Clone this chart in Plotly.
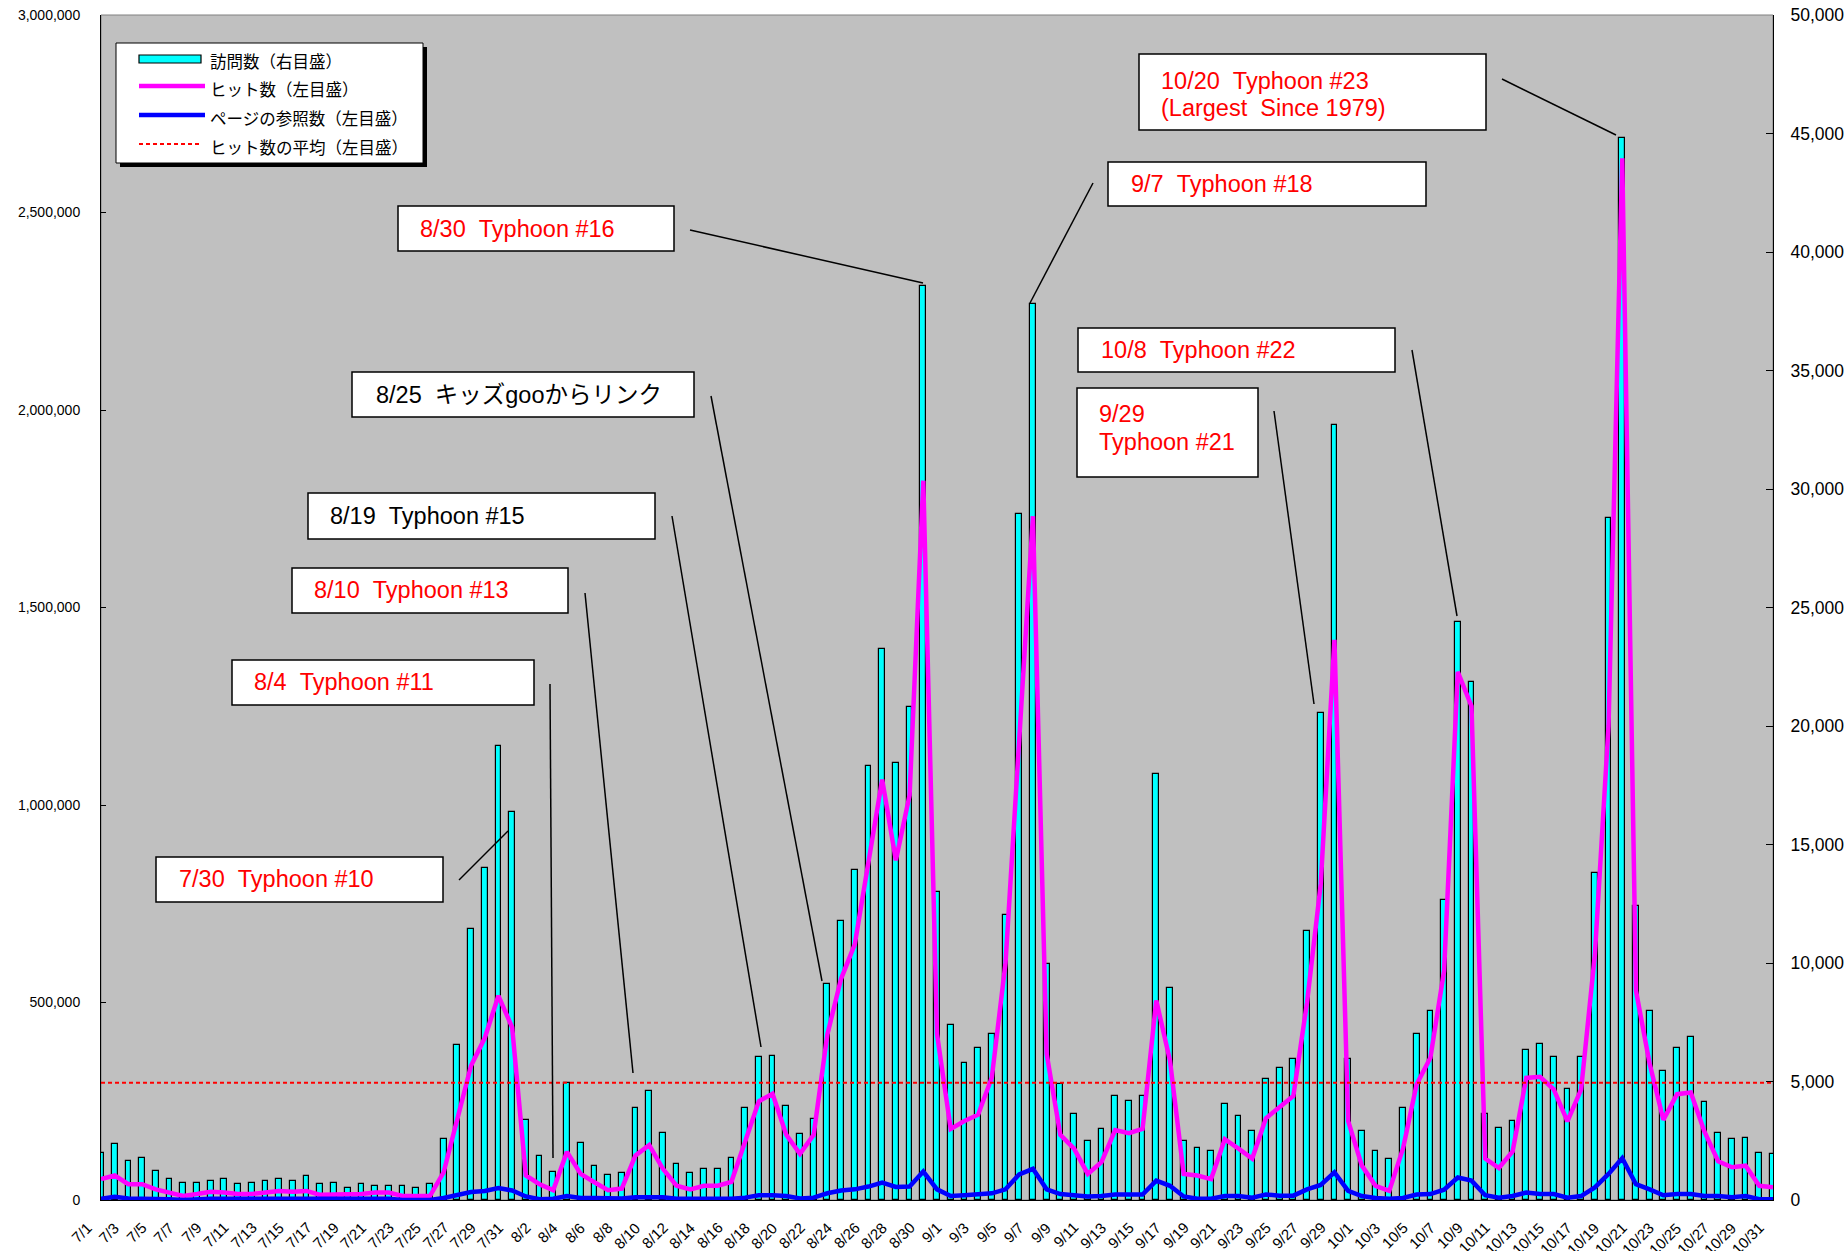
import plotly.graph_objects as go
from datetime import date, timedelta

# ---------------- data ----------------
START = date(2004, 7, 1)
N_DAYS = 123
DATES = [START + timedelta(days=k) for k in range(N_DAYS)]
LABELS = [f"{d.month}/{d.day}" for d in DATES]

# 訪問数 (right axis)
VISITS = [2000, 2350, 1650, 1790, 1230, 870, 730, 730, 800, 870,
          660, 730, 800, 870, 800, 1010, 660, 730, 510, 660,
          590, 590, 590, 510, 660, 2560, 6550, 11440, 14020, 19140,
          16370, 3380, 1850, 1170, 4950, 2415, 1430, 1070, 1160, 3900,
          4600, 2840, 1500, 1160, 1290, 1290, 1790, 3900, 6020, 6090,
          3970, 2770, 3415, 9100, 11790, 13930, 18310, 23230, 18460, 20800,
          38560, 12985, 7400, 5780, 6420, 6990, 12040, 28950, 37810, 9950,
          4900, 3615, 2486, 2987, 4387, 4173, 4387, 17960, 8955, 2486,
          2201, 2058, 4044, 3558, 2915, 5102, 5587, 5945, 11343, 20550,
          32690, 5945, 2915, 2058, 1715, 3901, 7002, 7988, 12640, 24380,
          21840, 3629, 3058, 3344, 6316, 6573, 6016, 4687, 6016, 13780,
          28760, 44800, 12390, 7988, 5444, 6430, 6859, 4115, 2844, 2558,
          2629, 2001, 1929]

# ヒット数 (left axis)
HITS = [53000, 62000, 40000, 40000, 27000, 19000, 10000, 15000, 21000, 19000,
        15000, 15000, 19000, 23000, 21000, 23000, 13000, 13000, 13000, 15000,
        19000, 19000, 10000, 10000, 10000, 70000, 210000, 340000, 410000, 517000,
        437000, 62000, 40000, 25000, 122000, 66000, 45000, 25000, 29000, 113000,
        139000, 79000, 36000, 27000, 36000, 36000, 46000, 147000, 250000, 269000,
        165000, 117000, 165000, 419000, 560000, 647000, 851000, 1064000, 860000, 1025000,
        1821000, 420000, 180000, 200000, 216000, 310000, 600000, 1150000, 1731000, 370000,
        165000, 130000, 66000, 96000, 177000, 169000, 180000, 505000, 353000, 66000,
        62000, 53000, 154000, 130000, 105000, 207000, 235000, 263000, 500000, 800000,
        1418000, 200000, 87000, 36000, 23000, 130000, 293000, 360000, 580000, 1337000,
        1250000, 105000, 81000, 123000, 309000, 312000, 280000, 199000, 280000, 620000,
        1200000, 2637000, 530000, 345000, 203000, 268000, 272000, 173000, 98000, 83000,
        87000, 36000, 32000]

# ページの参照数 (left axis)
PAGES = [3000, 8000, 4000, 4000, 3000, 2000, 0, 2000, 3000, 3000,
         3000, 3000, 3000, 3000, 3000, 3000, 3000, 3000, 3000, 3000,
         3000, 3000, 0, 0, 0, 5000, 12000, 20000, 23000, 30000,
         24000, 9000, 2000, 3000, 10000, 5000, 5000, 4000, 4000, 7000,
         7000, 7000, 3000, 3000, 3000, 3000, 3000, 6000, 12000, 12000,
         10000, 4000, 6000, 17000, 24000, 27000, 34000, 44000, 33000, 34000,
         72000, 27000, 10000, 12000, 15000, 17000, 27000, 65000, 79000, 27000,
         15000, 11000, 9000, 10000, 14000, 14000, 14000, 49000, 36000, 9000,
         3000, 3000, 10000, 10000, 6000, 14000, 11000, 11000, 27000, 38000,
         70000, 23000, 10000, 5000, 3000, 5000, 14000, 15000, 26000, 57000,
         49000, 12000, 6000, 10000, 19000, 15000, 15000, 6000, 10000, 32000,
         66000, 106000, 40000, 27000, 12000, 15000, 15000, 10000, 10000, 7000,
         10000, 2000, 2000]

# ヒット数の平均 (left axis)
HIT_AVG = 297000

LEGEND_NAMES = ["訪問数（右目盛）", "ヒット数（左目盛）", "ページの参照数（左目盛）", "ヒット数の平均（左目盛）"]

# callouts: (lines of text, colour)
CALLOUTS = [
    (["7/30\u00a0\u00a0Typhoon #10"], "#FF0000"),
    (["8/4\u00a0\u00a0Typhoon #11"], "#FF0000"),
    (["8/10\u00a0\u00a0Typhoon #13"], "#FF0000"),
    (["8/19\u00a0\u00a0Typhoon #15"], "#000000"),
    (["8/25\u00a0\u00a0キッズgooからリンク"], "#000000"),
    (["8/30\u00a0\u00a0Typhoon #16"], "#FF0000"),
    (["9/7\u00a0\u00a0Typhoon #18"], "#FF0000"),
    (["10/20\u00a0\u00a0Typhoon #23", "(Largest\u00a0\u00a0Since 1979)"], "#FF0000"),
    (["10/8\u00a0\u00a0Typhoon #22"], "#FF0000"),
    (["9/29", "Typhoon #21"], "#FF0000"),
]

# ---------------- layout geometry (pixels) ----------------
W, H = 1848, 1251
PL, PR, PT, PB = 101, 1773, 15, 1200

def px(x):
    return (x - PL) / (PR - PL)

def py(y):
    return (PB - y) / (PB - PT)

# callout boxes: (x0, y0, x1, y1), text left, first line y, line step, leader line
BOXES = [
    ((156, 857, 443, 902), 177, 879, 0, (459, 880, 508, 831)),
    ((232, 660, 534, 705), 252, 682, 0, (550, 684, 553, 1158)),
    ((292, 568, 568, 613), 312, 590, 0, (585, 593, 633, 1073)),
    ((308, 493, 655, 539), 328, 516, 0, (672, 516, 761, 1047)),
    ((352, 372, 694, 417), 374, 395, 0, (711, 396, 822, 981)),
    ((398, 206, 674, 251), 418, 229, 0, (690, 230, 923, 283)),
    ((1108, 162, 1426, 206), 1129, 184, 0, (1093, 183, 1030, 303)),
    ((1139, 54, 1486, 130), 1159, 81, 27, (1502, 79, 1616, 135)),
    ((1078, 328, 1395, 372), 1099, 350, 0, (1412, 350, 1457, 616)),
    ((1077, 388, 1258, 477), 1097, 414, 28, (1274, 411, 1314, 704)),
]

X = list(range(N_DAYS))

fig = go.Figure()
fig.add_trace(go.Bar(x=X, y=VISITS, name=LEGEND_NAMES[0], yaxis="y",
                     width=0.42, marker=dict(color="#00FFFF", line=dict(color="#000000", width=1.2))))
fig.add_trace(go.Scatter(x=X, y=HITS, name=LEGEND_NAMES[1], yaxis="y2", mode="lines",
                         line=dict(color="#FF00FF", width=4.5)))
fig.add_trace(go.Scatter(x=X, y=PAGES, name=LEGEND_NAMES[2], yaxis="y2", mode="lines",
                         line=dict(color="#0000FF", width=4.5)))
fig.add_trace(go.Scatter(x=[X[0], X[-1]], y=[HIT_AVG, HIT_AVG], name=LEGEND_NAMES[3], yaxis="y2",
                         mode="lines", line=dict(color="#FF0000", width=2, dash="4px,3px")))

shapes = []
annotations = []

# plot area border (grey)
shapes.append(dict(type="rect", xref="paper", yref="paper", x0=0, y0=0, x1=1, y1=1,
                   line=dict(color="#808080", width=1), layer="below"))

# legend box with shadow
shapes.append(dict(type="rect", xref="paper", yref="paper", x0=px(120), y0=py(167), x1=px(427), y1=py(47),
                   fillcolor="#000000", line=dict(width=0)))
shapes.append(dict(type="rect", xref="paper", yref="paper", x0=px(116), y0=py(163), x1=px(423), y1=py(43),
                   fillcolor="#FFFFFF", line=dict(color="#000000", width=1)))
shapes.append(dict(type="rect", xref="paper", yref="paper", x0=px(139), y0=py(63), x1=px(201), y1=py(55),
                   fillcolor="#00FFFF", line=dict(color="#000000", width=1.2)))
shapes.append(dict(type="line", xref="paper", yref="paper", x0=px(139), y0=py(86), x1=px(205), y1=py(86),
                   line=dict(color="#FF00FF", width=4.5)))
shapes.append(dict(type="line", xref="paper", yref="paper", x0=px(139), y0=py(115), x1=px(205), y1=py(115),
                   line=dict(color="#0000FF", width=4.5)))
shapes.append(dict(type="line", xref="paper", yref="paper", x0=px(139), y0=py(144), x1=px(200), y1=py(144),
                   line=dict(color="#FF0000", width=2, dash="4px,3px")))
for k, yy in enumerate([61, 89, 118, 147]):
    annotations.append(dict(xref="paper", yref="paper", x=px(208), y=py(yy), xanchor="left", yanchor="middle",
                            text=LEGEND_NAMES[k], showarrow=False,
                            font=dict(family="Noto Sans CJK JP", size=16.5, color="#000000")))

# callouts
for (lines, colour), (box, tx, ty, step, lead) in zip(CALLOUTS, BOXES):
    x0, y0, x1, y1 = box
    shapes.append(dict(type="rect", xref="paper", yref="paper", x0=px(x0), y0=py(y1), x1=px(x1), y1=py(y0),
                       fillcolor="#FFFFFF", line=dict(color="#000000", width=1.5)))
    lx0, ly0, lx1, ly1 = lead
    shapes.append(dict(type="line", xref="paper", yref="paper", x0=px(lx0), y0=py(ly0), x1=px(lx1), y1=py(ly1),
                       line=dict(color="#000000", width=1.5)))
    for j, t in enumerate(lines):
        annotations.append(dict(xref="paper", yref="paper", x=px(tx), y=py(ty + j * step),
                                xanchor="left", yanchor="middle", text=t, showarrow=False,
                                font=dict(family="Liberation Sans, Arial, Noto Sans CJK JP", size=23.5,
                                          color=colour)))

# rotated category labels (every other day), anchored at the category positions
for i in X[::2]:
    annotations.append(dict(xref="x", yref="paper", x=i, y=0, xanchor="right", yanchor="top",
                            xshift=-6, yshift=-19, textangle=-45, text=LABELS[i], showarrow=False,
                            borderpad=0, borderwidth=0,
                            font=dict(family="Liberation Sans, Arial, sans-serif", size=15, color="#000000")))

fig.update_layout(
    width=W, height=H, autosize=False,
    margin=dict(l=PL, r=W - PR, t=PT, b=H - PB, pad=0),
    paper_bgcolor="#FFFFFF", plot_bgcolor="#C0C0C0",
    showlegend=False, bargap=0,
    font=dict(family="Liberation Sans, Arial, sans-serif", color="#000000"),
    xaxis=dict(range=[0, N_DAYS - 1], showticklabels=False, showgrid=False, zeroline=False,
               showline=True, linecolor="#000000", linewidth=1, ticks="", automargin=False),
    yaxis=dict(side="right", range=[0, 50000], tickmode="linear", tick0=0, dtick=5000,
               tickformat=",", tickfont=dict(size=17.5), showgrid=False, zeroline=False,
               showline=True, linecolor="#000000", linewidth=1, ticks="inside", ticklen=7,
               tickcolor="#000000", ticklabelstandoff=13, automargin=False),
    yaxis2=dict(side="left", overlaying="y", range=[0, 3000000], tickmode="linear", tick0=0,
                dtick=500000, tickformat=",", tickfont=dict(size=14), showgrid=False, zeroline=False,
                showline=True, linecolor="#000000", linewidth=1, ticks="inside", ticklen=5,
                tickcolor="#000000", ticklabelstandoff=17, automargin=False),
    shapes=shapes,
    annotations=annotations,
)

fig.write_html("out.html", config={"displayModeBar": False},
               post_script="document.body.style.margin='0px';document.body.style.overflow='hidden';")
